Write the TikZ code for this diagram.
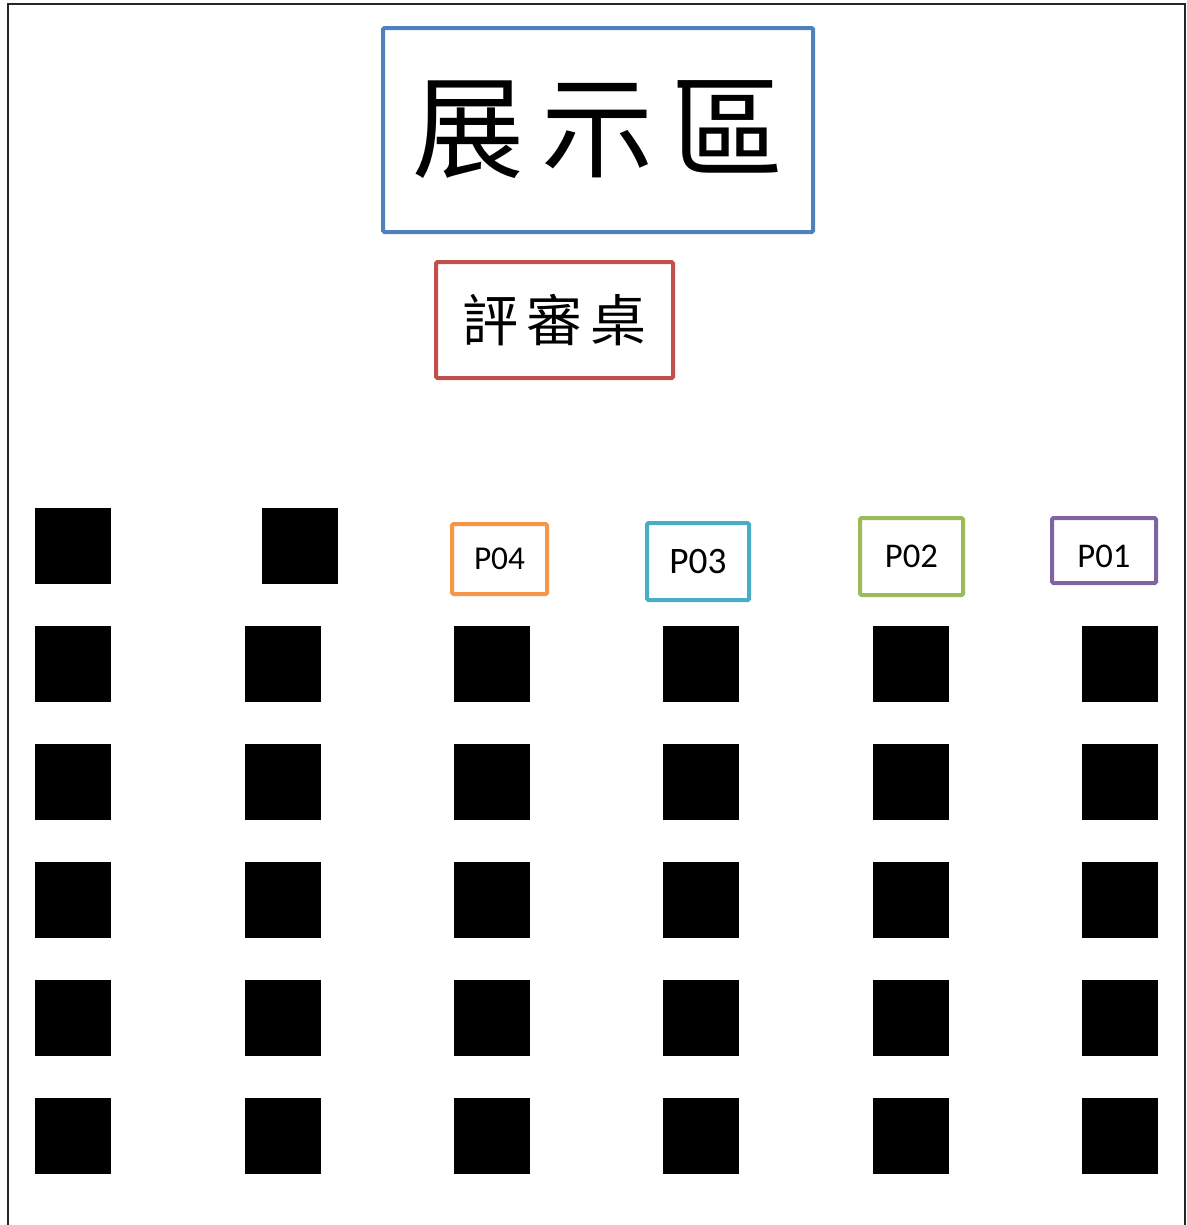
\documentclass[tikz,border=0pt]{standalone}
\usepackage{fontspec}
\setmainfont{Carlito}
\newfontfamily\cjk{Noto Sans CJK TC}
\usepackage{tikz}
\usetikzlibrary{backgrounds,calc}
\definecolor{zoneblue}{RGB}{79,129,189}
\definecolor{deskred}{RGB}{192,80,77}
\definecolor{porange}{RGB}{247,150,70}
\definecolor{pcyan}{RGB}{75,172,198}
\definecolor{pgreen}{RGB}{155,187,89}
\definecolor{ppurple}{RGB}{128,100,162}
\tikzset{
  seat/.style={fill=black,minimum size=57pt,inner sep=0pt},
  tag/.style={draw=#1,line width=3pt,rounded corners=1pt,inner sep=0pt}
}
\begin{document}
\begin{tikzpicture}[x=0.75pt,y=-0.75pt]
\useasboundingbox (0,0) rectangle (1186,1225);
\draw[line width=1.5pt,black!85] (8,1230) -- (8,4) -- (1185,4) -- (1185,1230);
\node[tag=zoneblue,minimum width=322.5pt,minimum height=153pt] (zone) at (598,130)
  {\cjk\fontsize{84}{88}\selectfont 展\hspace{13pt}示\hspace{13pt}區};
\node[tag=deskred,minimum width=177.75pt,minimum height=87pt] (desk) at (554.5,320)
  {\cjk\fontsize{42}{46}\selectfont 評\hspace{6pt}審\hspace{6pt}桌};
\node[tag=porange,minimum width=71.25pt,minimum height=52.5pt] (p4) at (499.5,559)
  {\fontsize{25}{28}\selectfont P04};
\node[tag=pcyan,minimum width=76.5pt,minimum height=57.75pt] (p3) at (698,561.5)
  {\fontsize{28}{32}\selectfont P03};
\node[tag=pgreen,minimum width=77.25pt,minimum height=57.75pt] (p2) at (911.5,556.5)
  {\fontsize{26}{30}\selectfont P02};
\node[tag=ppurple,minimum width=78pt,minimum height=48.75pt] (p1) at (1104,550.5)
  {\fontsize{26}{30}\selectfont\raisebox{-4.5pt}[\height][\depth]{P01}};
\node[seat] (s-0-1) at (73,546) {};
\node[seat] (s-0-2) at (300,546) {};
\foreach \r in {1,...,5}
  \foreach \c/\x in {1/73,2/283,3/492,4/701,5/911,6/1120}
    \node[seat] (s-\r-\c) at (\x,546+118*\r) {};
\end{tikzpicture}
\end{document}
